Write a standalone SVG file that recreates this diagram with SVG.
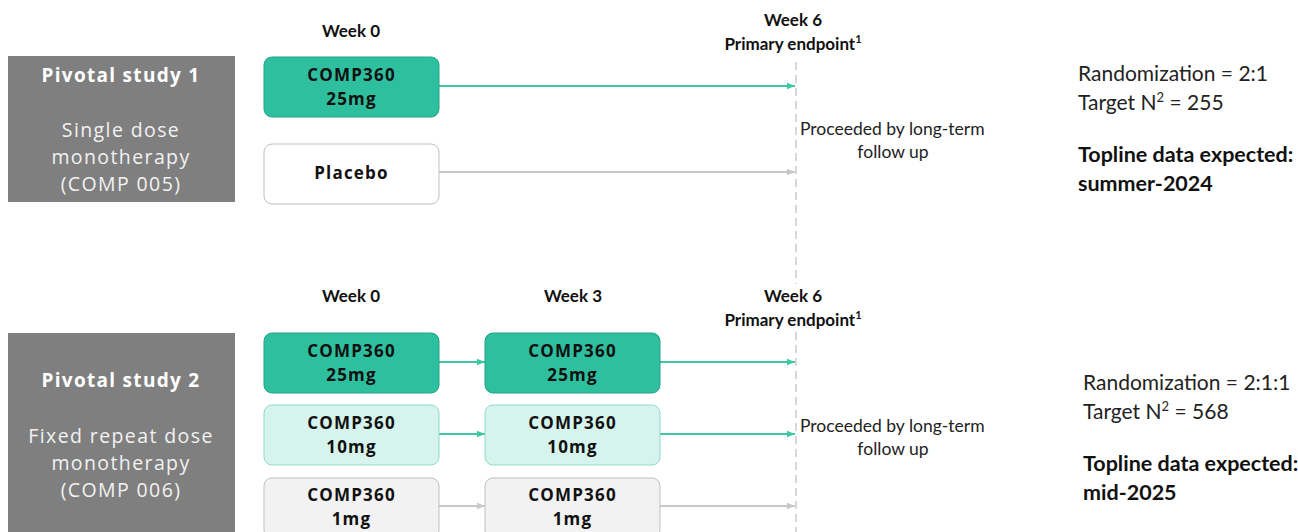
<svg xmlns="http://www.w3.org/2000/svg" width="1298" height="532" viewBox="0 0 1298 532">
<defs>
<style>
.study{fill:#7f7f7f}
.st{font-family:"Open Sans","DejaVu Sans",sans-serif;fill:#ffffff;text-anchor:middle}
.stt{font-weight:bold;font-size:19px;letter-spacing:1.3px}
.sts{font-size:19.5px;letter-spacing:1.4px;fill:#f2f2f2}
.box{font-family:"Open Sans","DejaVu Sans",sans-serif;font-weight:bold;font-size:17px;letter-spacing:1.2px;text-anchor:middle;fill:#111}
.dark{fill:#2ebf9f;stroke:#23a386;stroke-width:1}
.light{fill:#d6f4ed;stroke:#8edcc8;stroke-width:1}
.grey{fill:#f2f2f2;stroke:#bfbfbf;stroke-width:1}
.white{fill:#ffffff;stroke:#bfbfbf;stroke-width:1}
.wk{font-family:Lato,"Liberation Sans",sans-serif;font-weight:bold;font-size:17px;text-anchor:middle;fill:#111}
.note{font-family:Lato,"Liberation Sans",sans-serif;font-size:17.5px;fill:#222}
.info{font-family:Lato,"Liberation Sans",sans-serif;font-size:21px;fill:#222}
.infob{font-family:Lato,"Liberation Sans",sans-serif;font-size:21.5px;font-weight:bold;fill:#111}
.at{stroke:#3ec7a5;stroke-width:2;fill:none}
.ag{stroke:#c8c8c8;stroke-width:2;fill:none}
.dash{stroke:#bdbdbd;stroke-width:1.2;stroke-dasharray:8,5;fill:none}
</style>
<marker id="mt" viewBox="0 0 10 10" refX="10" refY="5" markerWidth="4" markerHeight="4" orient="auto" markerUnits="strokeWidth"><path d="M0,1 L10,5 L0,9 z" fill="#3ec7a5"/></marker>
<marker id="mg" viewBox="0 0 10 10" refX="10" refY="5" markerWidth="4" markerHeight="4" orient="auto" markerUnits="strokeWidth"><path d="M0,1 L10,5 L0,9 z" fill="#c8c8c8"/></marker>
</defs>
<rect width="1298" height="532" fill="#ffffff"/>

<g id="timeline-labels">
<text class="wk" x="351" y="37">Week 0</text>
<text class="wk" x="793" y="26">Week 6</text>
<text class="wk" x="793" y="50">Primary endpoint<tspan font-size="11" dy="-7">1</tspan></text>
<text class="wk" x="351" y="302">Week 0</text>
<text class="wk" x="573" y="302">Week 3</text>
<text class="wk" x="793" y="302">Week 6</text>
<text class="wk" x="793" y="326">Primary endpoint<tspan font-size="11" dy="-7">1</tspan></text>
</g>

<g id="connectors">
<line class="dash" x1="796" y1="62" x2="796" y2="284"/>
<line class="dash" x1="796" y1="332" x2="796" y2="532"/>
<line class="at" x1="439" y1="86" x2="795" y2="86" marker-end="url(#mt)"/>
<line class="ag" x1="439" y1="172" x2="795" y2="172" marker-end="url(#mg)"/>
<line class="at" x1="439" y1="362" x2="485" y2="362" marker-end="url(#mt)"/>
<line class="at" x1="660" y1="362" x2="795" y2="362" marker-end="url(#mt)"/>
<line class="at" x1="439" y1="434" x2="485" y2="434" marker-end="url(#mt)"/>
<line class="at" x1="660" y1="434" x2="795" y2="434" marker-end="url(#mt)"/>
<line class="ag" x1="439" y1="506" x2="485" y2="506" marker-end="url(#mg)"/>
<line class="ag" x1="660" y1="506" x2="795" y2="506" marker-end="url(#mg)"/>
</g>

<g id="study1">
<rect class="study" x="8" y="56" width="227" height="146"/>
<text class="st stt" x="121" y="82">Pivotal study 1</text>
<text class="st sts" x="121" y="137">Single dose</text>
<text class="st sts" x="121" y="164">monotherapy</text>
<text class="st sts" x="121" y="191">(COMP 005)</text>
</g>

<g id="s1-comp25">
<rect class="dark" x="264" y="57" width="175" height="60" rx="8"/>
<text class="box" x="351.5" y="81">COMP360</text>
<text class="box" x="351.5" y="105">25mg</text>
</g>
<g id="s1-placebo">
<rect class="white" x="264" y="144" width="175" height="60" rx="8"/>
<text class="box" x="351.5" y="179">Placebo</text>
</g>

<g id="s1-note">
<text class="note" x="800" y="135">Proceeded by long-term</text>
<text class="note" x="893" y="158" text-anchor="middle">follow up</text>
</g>
<g id="s1-info">
<text class="info" x="1078" y="81">Randomization = 2:1</text>
<text class="info" x="1078" y="110">Target N<tspan font-size="13" dy="-8">2</tspan><tspan dy="8"> = 255</tspan></text>
<text class="infob" x="1078" y="162">Topline data expected:</text>
<text class="infob" x="1078" y="191">summer-2024</text>
</g>

<g id="study2">
<rect class="study" x="8" y="333" width="227" height="199"/>
<text class="st stt" x="121" y="387">Pivotal study 2</text>
<text class="st sts" x="121" y="443">Fixed repeat dose</text>
<text class="st sts" x="121" y="470">monotherapy</text>
<text class="st sts" x="121" y="497">(COMP 006)</text>
</g>

<g id="s2-w0-25">
<rect class="dark" x="264" y="333" width="175" height="60" rx="8"/>
<text class="box" x="351.5" y="357">COMP360</text>
<text class="box" x="351.5" y="381">25mg</text>
</g>
<g id="s2-w3-25">
<rect class="dark" x="485" y="333" width="175" height="60" rx="8"/>
<text class="box" x="572.5" y="357">COMP360</text>
<text class="box" x="572.5" y="381">25mg</text>
</g>
<g id="s2-w0-10">
<rect class="light" x="264" y="405" width="175" height="60" rx="8"/>
<text class="box" x="351.5" y="429">COMP360</text>
<text class="box" x="351.5" y="453">10mg</text>
</g>
<g id="s2-w3-10">
<rect class="light" x="485" y="405" width="175" height="60" rx="8"/>
<text class="box" x="572.5" y="429">COMP360</text>
<text class="box" x="572.5" y="453">10mg</text>
</g>
<g id="s2-w0-1">
<rect class="grey" x="264" y="478" width="175" height="60" rx="8"/>
<text class="box" x="351.5" y="501">COMP360</text>
<text class="box" x="351.5" y="525">1mg</text>
</g>
<g id="s2-w3-1">
<rect class="grey" x="485" y="478" width="175" height="60" rx="8"/>
<text class="box" x="572.5" y="501">COMP360</text>
<text class="box" x="572.5" y="525">1mg</text>
</g>

<g id="s2-note">
<text class="note" x="800" y="432">Proceeded by long-term</text>
<text class="note" x="893" y="455" text-anchor="middle">follow up</text>
</g>
<g id="s2-info">
<text class="info" x="1083" y="390">Randomization = 2:1:1</text>
<text class="info" x="1083" y="419">Target N<tspan font-size="13" dy="-8">2</tspan><tspan dy="8"> = 568</tspan></text>
<text class="infob" x="1083" y="471">Topline data expected:</text>
<text class="infob" x="1083" y="500">mid-2025</text>
</g>
</svg>
